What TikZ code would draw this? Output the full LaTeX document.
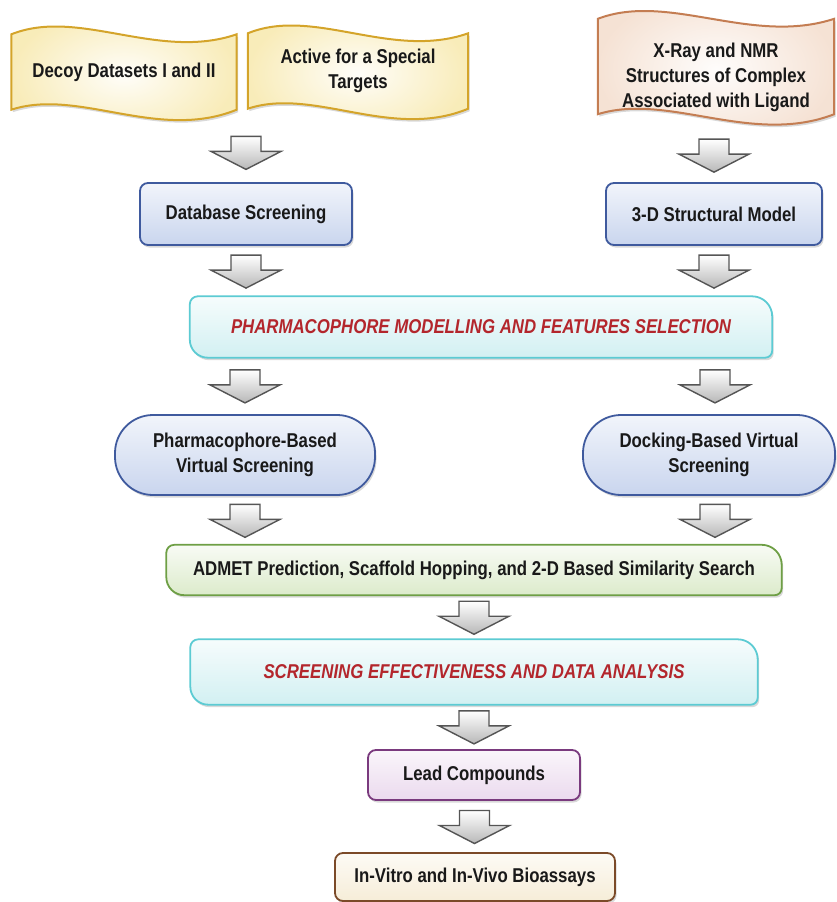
\documentclass[tikz,border=0pt]{standalone}
\usepackage{fontspec}
\setmainfont{Liberation Sans}[FakeStretch=0.84]
\usepackage{xcolor}
\definecolor{ylwfill}{HTML}{F4DF8A}
\definecolor{ylwline}{HTML}{D4A42A}
\definecolor{peachfill}{HTML}{EFCFB8}
\definecolor{peachline}{HTML}{C47D52}
\definecolor{bluefill}{HTML}{C9D5EE}
\definecolor{blueline}{HTML}{3F5A9E}
\definecolor{cyanfill}{HTML}{D2F0F2}
\definecolor{cyanline}{HTML}{5CCBD3}
\definecolor{greenfill}{HTML}{DCEBCB}
\definecolor{greenline}{HTML}{6E9F45}
\definecolor{purplefill}{HTML}{EBDAEE}
\definecolor{purpleline}{HTML}{7A3A7E}
\definecolor{brownfill}{HTML}{F6EDD8}
\definecolor{brownline}{HTML}{7B4A28}
\definecolor{titlered}{HTML}{B3262C}
\definecolor{arrowline}{HTML}{555555}
\usetikzlibrary{calc, backgrounds, shadows}

% wavy banner behind a node (#3 = lift of the lower edge)
\newcommand\wavebg[3]{%
  \path[draw=#2line, line width=2pt, inner color=#2fill!5, outer color=#2fill!60, softshadow]
    ($(#1.north west)+(0,5)$)
      .. controls ($(#1.north west)!0.3!(#1.north east)+(0,-22)$)
      and ($(#1.north west)!0.65!(#1.north east)+(0,32)$) .. ($(#1.north east)+(0,5)$)
    -- ($(#1.south east)+(0,-#3)$)
      .. controls ($(#1.south west)!0.65!(#1.south east)+(0,32-#3)$)
      and ($(#1.south west)!0.3!(#1.south east)+(0,-22-#3)$) .. ($(#1.south west)+(0,-#3)$)
    -- cycle;}
% box with two big and two small corners
\newcommand\diagframe[2]{%
  \begin{scope}[y=1pt]
  \path[draw=#2line, line width=1.8pt, top color=#2fill!20, bottom color=#2fill, softshadow]
    ($(#1.north west)+(8,0)$) -- ($(#1.north east)+(-20,0)$)
      arc[start angle=90, end angle=0, radius=20]
    -- ($(#1.south east)+(0,7)$) arc[start angle=0, end angle=-90, radius=7]
    -- ($(#1.south west)+(18,0)$) arc[start angle=270, end angle=180, radius=18]
    -- ($(#1.north west)+(0,-8)$) arc[start angle=180, end angle=90, radius=8]
    -- cycle;
  \end{scope}}

\begin{document}
\begin{tikzpicture}[x=1pt, y=-1pt,
  every node/.style={font=\fontsize{20}{25}\selectfont\bfseries, text=black!90, align=center, inner sep=0pt},
  softshadow/.style={drop shadow={opacity=0.3, shadow xshift=1.5pt, shadow yshift=-2.5pt}},
  flat/.style={draw=#1line, line width=1.8pt, rounded corners=8pt, top color=#1fill!25, bottom color=#1fill, softshadow},
  pill/.style={flat=#1, rounded corners=38pt},
  redtitle/.style={text=titlered, font=\fontsize{20}{24}\selectfont\bfseries\itshape},
  hollow/.pic={\path[draw=arrowline, line width=1.4pt, top color=white, bottom color=black!28]
    (-15,-16) -- (15,-16) -- (15,-1) -- (35,-1) -- (0,17) -- (-35,-1) -- (-15,-1) -- cycle;}]
  \useasboundingbox (0,0) rectangle (837,902);

  % sources
  \node[minimum width=225, minimum height=85] (decoy) at (124,72) {Decoy Datasets I and II};
  \node[minimum width=220, minimum height=85] (active) at (358,71) {Active for a Special\\Targets};
  \node[minimum width=236, minimum height=126] (xray) at (716,77) {X-Ray and NMR\\Structures of Complex\\Associated with Ligand};

  % first steps
  \node[flat=blue, minimum width=212, minimum height=62] (dbscreen) at (246,214) {Database Screening};
  \node[flat=blue, minimum width=216, minimum height=62] (model) at (714,214) {3-D Structural Model};

  \node[redtitle, minimum width=582, minimum height=61] (pmodel) at (481,327)
    {PHARMACOPHORE MODELLING AND FEATURES SELECTION};

  % virtual screening
  \node[pill=blue, minimum width=260, minimum height=80] (pbvs) at (245,455) {Pharmacophore-Based\\Virtual Screening};
  \node[pill=blue, minimum width=252, minimum height=80] (dbvs) at (709,455) {Docking-Based Virtual\\Screening};

  \node[minimum width=615, minimum height=50] (admet) at (474,570)
    {ADMET Prediction, Scaffold Hopping, and 2-D Based Similarity Search};
  \node[redtitle, minimum width=567, minimum height=65] (effect) at (474,672)
    {SCREENING EFFECTIVENESS AND DATA ANALYSIS};

  % results
  \node[flat=purple, minimum width=212, minimum height=50] (lead) at (474,775) {Lead Compounds};
  \node[flat=brown, minimum width=280, minimum height=48] (bioassay) at (475,877) {In-Vitro and In-Vivo Bioassays};

  \begin{scope}[on background layer]
    \wavebg{decoy}{ylw}{5}
    \wavebg{active}{ylw}{5}
    \wavebg{xray}{peach}{26}
    \diagframe{pmodel}{cyan}
    \diagframe{admet}{green}
    \diagframe{effect}{cyan}
  \end{scope}

  % arrows
  \pic at ($(dbscreen.north |- decoy.south)!0.5!(dbscreen.north)+(0,4)$) {hollow};
  \pic at ($(model.north |- xray.south)!0.5!(model.north)+(0,-6)$) {hollow};
  \pic at ($(dbscreen.south)!0.5!(dbscreen.south |- pmodel.north)$) {hollow};
  \pic at ($(model.south)!0.5!(model.south |- pmodel.north)$) {hollow};
  \pic at ($(pbvs.north |- pmodel.south)!0.5!(pbvs.north)$) {hollow};
  \pic at ($(dbvs.north |- pmodel.south)!0.5!(dbvs.north)+(6,0)$) {hollow};
  \pic at ($(pbvs.south)!0.5!(pbvs.south |- admet.north)$) {hollow};
  \pic at ($(dbvs.south)!0.5!(dbvs.south |- admet.north)+(6,0)$) {hollow};
  \pic at ($(admet.south)!0.5!(effect.north)$) {hollow};
  \pic at ($(effect.south)!0.5!(lead.north)$) {hollow};
  \pic at ($(lead.south)!0.5!(bioassay.north)$) {hollow};
\end{tikzpicture}
\end{document}
